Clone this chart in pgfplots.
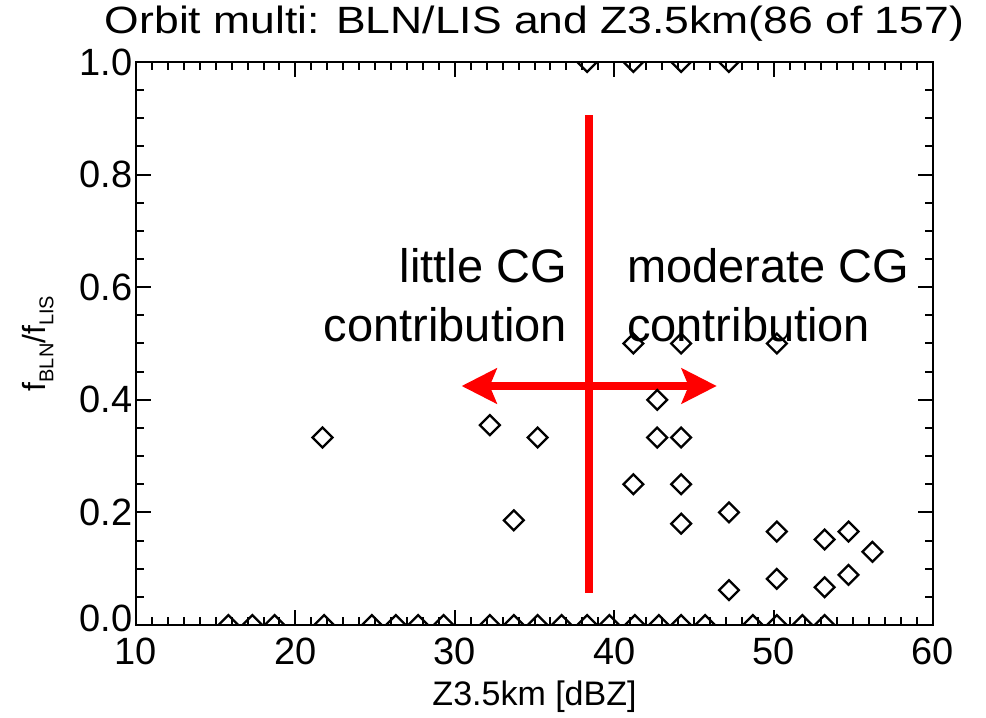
\documentclass[border=0pt]{standalone}
\usepackage{fontspec}
\setmainfont{Liberation Sans}
\newfontfamily\titlefont[FakeStretch=1.17]{Liberation Sans}
\usepackage{pgfplots}
\pgfplotsset{compat=1.18}
\usetikzlibrary{arrows.meta}

\begin{document}
\begin{tikzpicture}
\begin{axis}[
    at={(136pt,93pt)}, anchor=south west,
    scale only axis,
    width=797pt, height=563pt,
    xmin=10, xmax=60, ymin=0, ymax=1,
    xtick={10,20,...,60},
    ytick={0,0.2,0.4,0.6,0.8,1.0},
    yticklabels={\raisebox{13pt}{0.0},0.2,0.4,0.6,0.8,\raisebox{-10pt}{1.0}},
    minor x tick num=9,
    minor y tick num=3,
    major tick length=15pt,
    minor tick length=8pt,
    every tick/.style={black, line width=2pt},
    axis line style={line width=2.5pt},
    tick label style={font=\fontsize{38}{40}\selectfont},
    xticklabel style={yshift=-9pt},
    /pgf/number format/assume math mode=true,
    xticklabel style={/pgf/number format/.cd, fixed, precision=0},
    title={\titlefont Orbit multi: BLN/LIS and Z3.5km(86 of 157)},
    title style={font=\fontsize{38}{40}\selectfont, at={(axis description cs:0.5,1)}, anchor=base, yshift=22pt},
    xlabel={Z3.5km [dBZ]},
    xlabel style={font=\fontsize{34}{36}\selectfont, at={(axis description cs:0.5,0)}, anchor=base, yshift=-80pt},
    ylabel={f\raisebox{-0.25em}{\fontsize{20}{20}\selectfont BLN}/f\raisebox{-0.25em}{\fontsize{20}{20}\selectfont LIS}},
    ylabel style={font=\fontsize{32}{34}\selectfont, at={(axis description cs:-0.123,0.5)}, anchor=center},
    clip marker paths=true,
]
% red annotation lines
\addplot [red, line width=8pt, forget plot] coordinates {(38.42,0.057) (38.42,0.906)};
\addplot [red, line width=8pt, {Stealth[length=35pt, width=35pt, inset=7pt]}-{Stealth[length=35pt, width=35pt, inset=7pt]}, forget plot]
    coordinates {(30.43,0.4245) (46.43,0.4245)};

% data points
\addplot [only marks, black, mark=square, mark size=7pt, mark options={rotate=45, line width=2.3pt, fill=none}]
coordinates {
(15.8,0) (17.3,0) (18.7,0) (21.8,0) (24.8,0) (26.3,0) (27.7,0) (29.3,0)
(32.2,0) (33.7,0) (35.2,0) (36.7,0) (38.3,0) (39.7,0) (41.3,0) (42.8,0)
(44.2,0) (45.7,0) (48.7,0) (50.2,0) (51.8,0) (53.2,0)
(38.3,1) (41.2,1) (44.2,1) (47.2,1)
(21.7,0.333) (32.2,0.355) (35.2,0.333) (33.7,0.186)
(41.2,0.5) (44.2,0.5) (50.2,0.5)
(42.7,0.4) (42.7,0.333) (44.2,0.333)
(41.2,0.25) (44.2,0.25) (44.2,0.18)
(47.2,0.2) (50.2,0.166) (53.2,0.152) (54.7,0.166) (56.2,0.13)
(47.2,0.062) (50.2,0.082) (53.2,0.067) (54.7,0.089)
};

\node [anchor=base east, inner sep=0pt, font=\fontsize{47}{50}\selectfont] at (axis cs:37.04,0.6075) {little CG};
\node [anchor=base east, inner sep=0pt, font=\fontsize{47}{50}\selectfont] at (axis cs:37.04,0.5044) {contribution};
\node [anchor=base west, inner sep=0pt, font=\fontsize{47}{50}\selectfont] at (axis cs:40.80,0.6075) {moderate CG};
\node [anchor=base west, inner sep=0pt, font=\fontsize{47}{50}\selectfont] at (axis cs:40.80,0.5044) {contribution};
\end{axis}
\pgfresetboundingbox
\useasboundingbox (0,0) rectangle (986pt,718pt);
\end{tikzpicture}
\end{document}
